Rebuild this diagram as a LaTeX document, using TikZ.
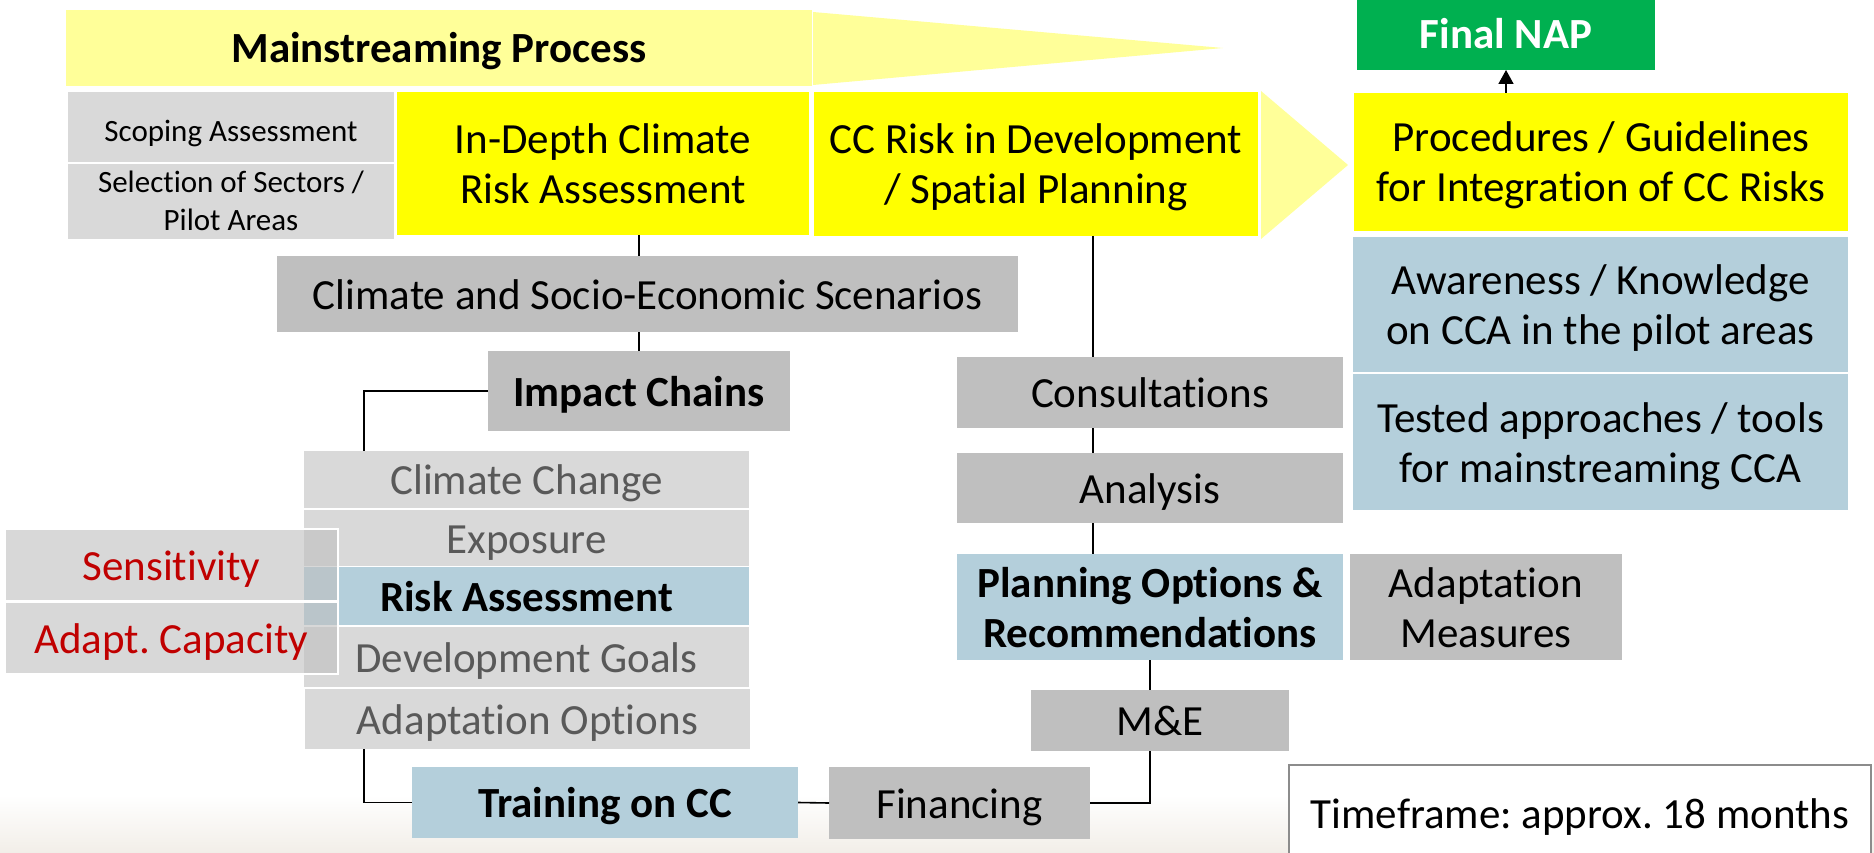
\documentclass[tikz,border=0pt]{standalone}
\usepackage{fontspec}
\setmainfont{Carlito}[Ligatures=NoCommon]
\usetikzlibrary{arrows.meta}
\frenchspacing
\definecolor{lyel}{HTML}{FFFF99}
\definecolor{yel}{HTML}{FFFF00}
\definecolor{lgray}{HTML}{D9D9D9}
\definecolor{mgray}{HTML}{BFBFBF}
\definecolor{lblue}{HTML}{B4CFDB}
\definecolor{napgreen}{HTML}{00B050}
\definecolor{redtxt}{HTML}{C00000}
\definecolor{graytxt}{HTML}{595959}
\definecolor{beige}{HTML}{F2EEE8}
\definecolor{framegray}{HTML}{8C8C8C}
\newcommand\strA{\rule[-9pt]{0pt}{48pt}}
\newcommand\strB{\rule[-6pt]{0pt}{34pt}}
\tikzset{
  box/.style={rectangle, inner sep=0pt, outer sep=0pt, anchor=north west, align=center,
    font=\fontsize{43}{50}\selectfont, execute at begin node=\strA},
  smallbox/.style={box, font=\fontsize{31}{38}\selectfont, execute at begin node=\strB},
  boldbox/.style={box, font=\fontsize{43}{50}\selectfont\bfseries},
  stackbox/.style={box, fill=lgray, text=graytxt, minimum width=445pt},
  sidebox/.style={box, fill=mgray, fill opacity=0.6, text opacity=1, draw=white, line width=1.2pt, text=redtxt, minimum width=333pt, minimum height=72pt},
  conn/.style={draw=black, line width=1.6pt},
}
\begin{document}
\begin{tikzpicture}[x=1pt,y=-1pt]
\useasboundingbox (0,0) rectangle (1874,853);
\clip (0,0) rectangle (1874,853);
\fill[white] (0,0) rectangle (1874,853);
\shade[top color=white, bottom color=beige] (0,795) rectangle (1874,853);

% top process bar
\node[boldbox, fill=lyel, minimum width=746pt, minimum height=76pt] (ms) at (66,10) {Mainstreaming Process};
\fill[lyel] (813,12) -- (1223,48) -- (813,85) -- cycle;

\node[smallbox, fill=lgray, minimum width=326pt, minimum height=70pt] (scope) at (68,92) {Scoping Assessment};
\node[smallbox, fill=lgray, minimum width=326pt, minimum height=71pt] (sel) at (68,164) {\strB Selection of Sectors /\\\strB Pilot Areas};
\node[box, fill=yel, minimum width=412pt, minimum height=143pt] (indepth) at (397,92) {\strA In-Depth Climate\\\strA Risk Assessment};
\node[box, fill=yel, minimum width=444pt, minimum height=144pt] (ccrisk) at (814,92) {\strA CC Risk in Development\\\strA / Spatial Planning};
\fill[lyel] (1261,91) -- (1348,165) -- (1261,239) -- cycle;

\node[boldbox, fill=napgreen, text=white, minimum width=298pt, minimum height=73pt] (nap) at (1357,-3) {Final NAP};
\node[box, fill=yel, minimum width=494pt, minimum height=138pt] (proc) at (1354,93) {\strA Procedures / Guidelines\\\strA for Integration of CC Risks};
\node[box, fill=lblue, minimum width=495pt, minimum height=135pt] (aware) at (1353,237) {\strA Awareness / Knowledge\\\strA on CCA in the pilot areas};
\node[box, fill=lblue, minimum width=495pt, minimum height=136pt] (tested) at (1353,374) {\strA Tested approaches / tools\\\strA for mainstreaming CCA};

% left branch
\node[box, fill=mgray, minimum width=741pt, minimum height=76pt] (scen) at (277,256) {Climate and Socio-Economic Scenarios};
\node[boldbox, fill=mgray, minimum width=302pt, minimum height=80pt] (impact) at (488,351) {Impact Chains};

\node[stackbox, minimum height=57pt] (cc) at (304,451) {Climate Change};
\node[stackbox, minimum height=56pt] (expo) at (304,510) {Exposure};
\node[boldbox, fill=lblue, minimum width=445pt, minimum height=58pt] (risk) at (304,567) {Risk Assessment};
\node[stackbox, minimum height=60pt] (devg) at (304,627) {Development Goals};
\node[stackbox, minimum height=60pt] (adopt) at (305,689) {Adaptation Options};

\node[sidebox] (sens) at (5,529) {Sensitivity};
\node[sidebox] (adcap) at (5,602) {Adapt. Capacity};

\node[boldbox, fill=lblue, minimum width=386pt, minimum height=71pt] (train) at (412,767) {Training on CC};
\node[box, fill=mgray, minimum width=261pt, minimum height=72pt] (fin) at (829,767) {Financing};

% right branch
\node[box, fill=mgray, minimum width=386pt, minimum height=71pt] (cons) at (957,357) {Consultations};
\node[box, fill=mgray, minimum width=386pt, minimum height=70pt] (anal) at (957,453) {Analysis};
\node[boldbox, fill=lblue, minimum width=386pt, minimum height=106pt] (plan) at (957,554) {\strA Planning Options \&\\\strA Recommendations};
\node[box, fill=mgray, minimum width=272pt, minimum height=106pt] (adm) at (1350,554) {\strA Adaptation\\\strA Measures};
\node[box, fill=mgray, minimum width=258pt, minimum height=61pt] (me) at (1031,690) {M\&E};

\node[box, fill=white, draw=framegray, line width=2pt, minimum width=582pt, minimum height=96pt] (tf) at (1289,765) {Timeframe: approx. 18 months};

% connectors
\coordinate (j1) at (364,451);
\coordinate (vx) at (1093,0);
\draw[conn] (indepth.south -| impact.north) -- (scen.north -| impact.north);
\draw[conn] (scen.south -| impact.north) -- (impact.north);
\draw[conn] (impact.west) -| (j1);
\draw[conn] (adopt.south -| j1) |- (train.west);
\draw[conn] (train.east) -- (fin.west);
\draw[conn] (fin.east) -| (me.south -| plan.south);
\draw[conn] (plan.south) -- (me.north -| plan.south);
\draw[conn] (ccrisk.south -| vx) -- (cons.north -| vx);
\draw[conn] (cons.south -| vx) -- (anal.north -| vx);
\draw[conn] (anal.south -| vx) -- (plan.north -| vx);
\draw[conn, -{Triangle[width=15pt,length=14pt]}] (proc.north -| nap.south) -- (nap.south);
\end{tikzpicture}
\end{document}
